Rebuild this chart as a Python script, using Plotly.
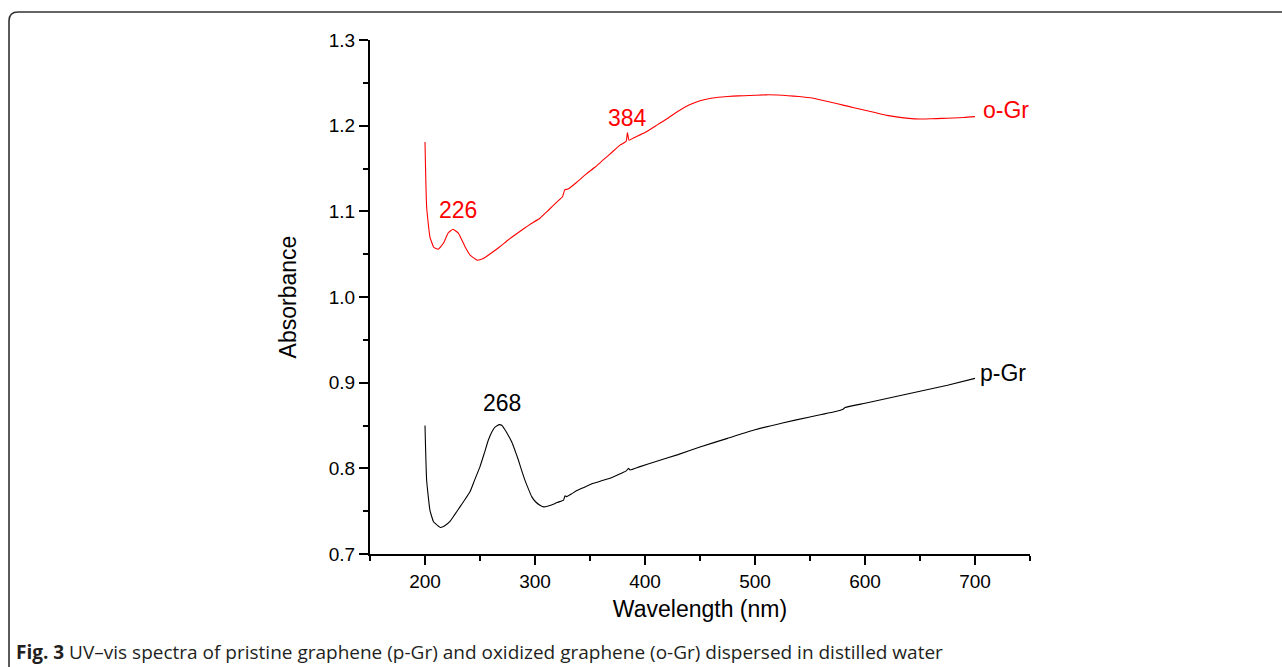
import plotly.graph_objects as go

# ---- spectra (wavelength in nm, absorbance) ----
pgr_wavelength = [200, 201.5, 204.5, 207.6, 209, 214, 218, 222.7, 227, 231.8, 236, 241, 245,
                  250, 254, 257.6, 261, 263.6, 267.5, 270, 272.7, 275.5, 278.8, 281.5, 284.8,
                  288, 290.9, 294, 297, 300.5, 304.5, 308, 312, 316.7, 320, 324.2, 326, 327.3,
                  328.8, 333, 338, 345, 353, 362, 371, 378, 383, 385, 386.5, 395.5, 410, 430,
                  450, 475, 500, 525, 550, 575, 580, 582, 600, 625, 650, 675, 700]
pgr_absorbance = [0.850, 0.786, 0.751, 0.738, 0.736, 0.731, 0.733, 0.738, 0.746, 0.755, 0.763,
                  0.773, 0.786, 0.802, 0.818, 0.833, 0.843, 0.848, 0.851, 0.850, 0.845, 0.839,
                  0.831, 0.822, 0.810, 0.797, 0.786, 0.776, 0.767, 0.761, 0.757, 0.755, 0.756,
                  0.758, 0.760, 0.762, 0.763, 0.768, 0.767, 0.770, 0.774, 0.778, 0.7825, 0.786,
                  0.790, 0.794, 0.797, 0.800, 0.798, 0.802, 0.808, 0.816, 0.825, 0.835, 0.845,
                  0.853, 0.860, 0.867, 0.869, 0.871, 0.876, 0.883, 0.890, 0.897, 0.905]

ogr_wavelength = [200, 201.5, 204.5, 208, 212, 216.7, 221.2, 225.5, 230.3, 236.4, 241, 247.5,
                  253, 260, 268, 275, 283, 290, 297, 304.5, 312, 320, 325, 327, 330, 338, 347,
                  355, 362, 370, 377, 381, 383, 384, 385.5, 390, 400, 410, 420, 429, 440, 450,
                  460, 470, 480, 490, 500, 510, 520, 530, 540, 550, 560, 570, 580, 590, 600,
                  610, 620, 630, 640, 650, 660, 670, 680, 690, 700]
ogr_absorbance = [1.181, 1.105, 1.070, 1.058, 1.0557, 1.0627, 1.075, 1.079, 1.0745, 1.0587,
                  1.049, 1.043, 1.045, 1.051, 1.0587, 1.066, 1.0735, 1.080, 1.086, 1.092, 1.101,
                  1.111, 1.117, 1.125, 1.126, 1.134, 1.144, 1.152, 1.160, 1.169, 1.177, 1.180,
                  1.182, 1.192, 1.183, 1.186, 1.192, 1.200, 1.208, 1.216, 1.224, 1.229, 1.232,
                  1.2335, 1.2345, 1.235, 1.2355, 1.236, 1.2358, 1.235, 1.234, 1.2325, 1.230,
                  1.227, 1.224, 1.221, 1.218, 1.215, 1.212, 1.210, 1.2085, 1.2078, 1.208,
                  1.2085, 1.209, 1.2095, 1.2105]

# ---- axis ticks ----
x_tickvals = [200, 300, 400, 500, 600, 700]
y_tickvals = [0.7, 0.8, 0.9, 1.0, 1.1, 1.2, 1.3]
y_ticktext = ["0.7", "0.8", "0.9", "1.0", "1.1", "1.2", "1.3"]

# ---- peak labels and curve names ----
peak_labels = [(230, 1.1015, "226", "red"), (384, 1.2085, "384", "red"), (270, 0.8765, "268", "black")]
curve_names = [(700, 1.218, "o-Gr", "red"), (700, 0.911, "p-Gr", "black")]
curve_name_shift = [6, 3]

FONT = "Liberation Sans, Arial, sans-serif"
W, H = 1282, 667
L, R, T, B = 370, 1030, 40, 554  # plot area in pixels


def px(x):
    return (x - L) / (R - L)


def py(y):
    return (B - y) / (B - T)


fig = go.Figure()
fig.add_trace(go.Scatter(x=ogr_wavelength, y=ogr_absorbance, mode="lines",
                         line=dict(color="#ff0000", width=1.1, shape="spline", smoothing=0.4),
                         showlegend=False, hoverinfo="skip"))
fig.add_trace(go.Scatter(x=pgr_wavelength, y=pgr_absorbance, mode="lines",
                         line=dict(color="#000000", width=1.1, shape="spline", smoothing=0.4),
                         showlegend=False, hoverinfo="skip"))

annotations = []
for xv, yv, txt, col in peak_labels:
    annotations.append(dict(x=xv, y=yv, xref="x", yref="y", text=txt, showarrow=False,
                            font=dict(family=FONT, size=23, color=col),
                            xanchor="center", yanchor="middle"))
for (xv, yv, txt, col), sh in zip(curve_names, curve_name_shift):
    annotations.append(dict(x=xv, y=yv, xref="x", yref="y", text=txt, showarrow=False,
                            font=dict(family=FONT, size=23, color=col),
                            xanchor="left", yanchor="middle", xshift=sh))

# caption under the chart
annotations.append(dict(x=px(14), y=py(652), xref="paper", yref="paper",
                        text="<b>Fig. 3</b> UV–vis spectra of pristine graphene (p-Gr) and oxidized "
                             "graphene (o-Gr) dispersed in distilled water",
                        showarrow=False, xanchor="left", yanchor="middle",
                        font=dict(family="Open Sans, sans-serif", size=19, color="#231f20")))

# rounded frame around the figure
r = 9
frame = (f"M {px(9)},{py(700)} L {px(9)},{py(12 + r)} "
         f"Q {px(9)},{py(12)} {px(9 + r)},{py(12)} L {px(1300)},{py(12)}")

fig.update_layout(
    width=W, height=H,
    margin=dict(l=L, r=W - R, t=T, b=H - B),
    paper_bgcolor="white", plot_bgcolor="white",
    annotations=annotations,
    shapes=[dict(type="path", path=frame, xref="paper", yref="paper",
                 line=dict(color="#333333", width=1.6))],
    xaxis=dict(range=[150, 750], tickvals=x_tickvals, ticks="outside", ticklen=9,
               tickwidth=1.5, tickcolor="black", showline=True, linecolor="black",
               linewidth=2, showgrid=False, zeroline=False,
               minor=dict(tickvals=[150, 250, 350, 450, 550, 650, 750], ticks="outside",
                          ticklen=5, tickwidth=1.5, tickcolor="black", showgrid=False),
               tickfont=dict(family=FONT, size=19, color="black"),
               title=dict(text="Wavelength (nm)", font=dict(family=FONT, size=23, color="black"),
                          standoff=10)),
    yaxis=dict(range=[0.7, 1.3], tickvals=y_tickvals, ticktext=y_ticktext, ticks="outside",
               ticklen=9, tickwidth=1.5, tickcolor="black", showline=True, linecolor="black",
               linewidth=2, showgrid=False, zeroline=False,
               minor=dict(tickvals=[0.75, 0.85, 0.95, 1.05, 1.15, 1.25], ticks="outside",
                          ticklen=5, tickwidth=1.5, tickcolor="black", showgrid=False),
               tickfont=dict(family=FONT, size=19, color="black"),
               title=dict(text="Absorbance", font=dict(family=FONT, size=23, color="black"),
                          standoff=26)),
)

fig.write_html("out.html")
